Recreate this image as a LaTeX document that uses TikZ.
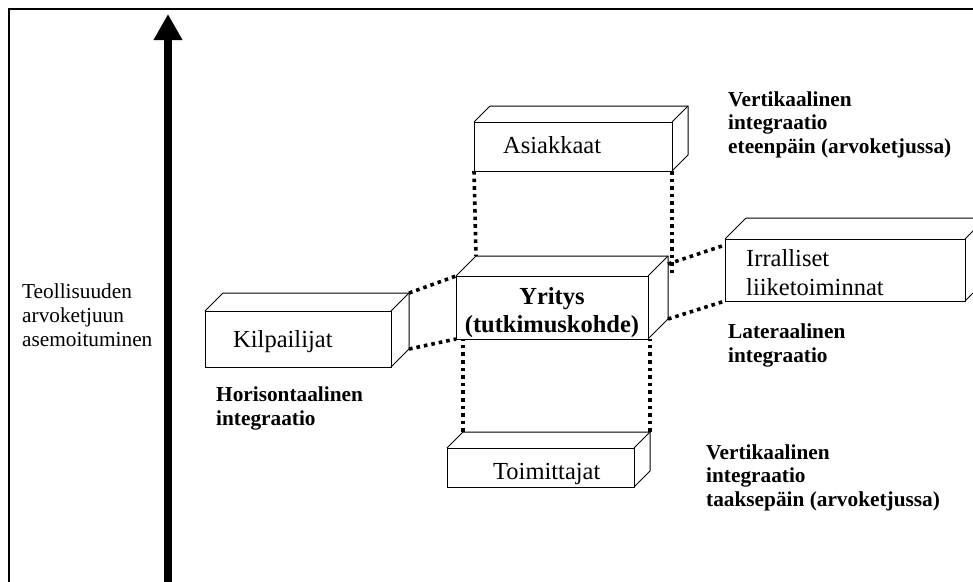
\documentclass[tikz,border=0pt]{standalone}
\usepackage{fontspec}
\setmainfont{Liberation Serif}
\usetikzlibrary{arrows.meta}
\tikzset{
  face/.style={draw, line width=1pt, fill=white, inner sep=0pt, outer sep=0pt},
  edge/.style={line width=1pt, line join=round},
  dots/.style={line width=3.6pt, dash pattern=on 3.6pt off 4pt},
  boxtext/.style={anchor=base west, inner sep=0pt, font=\fontsize{24.5}{28.5}\selectfont, align=left},
  tag/.style={anchor=base west, inner sep=0pt, font=\fontsize{21.3}{23.5}\selectfont\bfseries, align=left},
  axislabel/.style={anchor=base west, inner sep=0pt, font=\fontsize{21.3}{24}\selectfont, align=left},
}
% cuboid: name, left, top, right, bottom, depth (front face is the node)
\newcommand\cuboid[6]{%
  \node[face, minimum width={#4-#2}, minimum height={#5-#3}] (#1) at ({(#2+#4)/2},{(#3+#5)/2}) {};
  \coordinate (#1-tl) at ([shift={(#6,-#6)}]#1.north west);
  \coordinate (#1-tr) at ([shift={(#6,-#6)}]#1.north east);
  \coordinate (#1-br) at ([shift={(#6,-#6)}]#1.south east);
  \draw[edge] (#1.north west) -- (#1-tl) -- (#1-tr) -- (#1-br) -- (#1.south east);
  \draw[edge] (#1.north east) -- (#1-tr);
}
\begin{document}
\begin{tikzpicture}[x=1pt,y=-1pt]
\useasboundingbox (0,0) rectangle (973,581);
\clip (0,0) rectangle (973,581);

% outer frame (open to the right and bottom)
\draw[line width=2pt] (9,600) -- (9,9) -- (990,9);

% value-chain axis
\coordinate (axisfoot) at (168,600);
\coordinate (axistip) at (168,14);
\draw[line width=8pt, -{Triangle[width=27pt, length=26pt]}] (axisfoot) -- (axistip);
% multi-line texts are placed by the baseline of their last line
\node[axislabel] (axistxt) at (22,346) {Teollisuuden\\arvoketjuun\\asemoituminen};

% boxes
\cuboid{asi}{474}{122}{672}{171}{16}
\cuboid{yri}{456}{276}{648}{339}{20}
\cuboid{kil}{205}{311}{391}{367}{18}
\cuboid{irr}{725}{239}{965}{301}{21}
\cuboid{toi}{447}{448}{634}{487}{16}

% box texts
\node[boxtext] (asitxt) at (503,153) {Asiakkaat};
\node[boxtext] (kiltxt) at (233,347) {Kilpailijat};
\node[boxtext] (toitxt) at (493,479) {Toimittajat};
\node[boxtext] (irrtxt) at (746,295) {Irralliset\\liiketoiminnat};
\node[boxtext, anchor=base, align=center, font=\fontsize{24.5}{28}\selectfont\bfseries] (yritxt) at (552,332) {Yritys\\(tutkimuskohde)};

% dotted links
\draw[dots] (asi.south west) -- (yri-tl);
\draw[dots] (asi.south east) -- (asi.south east |- yri.north east);
\draw[dots] (toi-tl) -- (toi-tl |- yri.south);
\draw[dots] (toi-tr) -- (toi-tr |- yri.south);
\draw[dots] (kil-tr) -- (yri.north west);
\draw[dots] (kil-br) -- (yri.south west);
\draw[dots] ([shift={(0,8)}]yri-tr) -- ([shift={(0,6)}]irr.north west);
\draw[dots] (yri-br) -- (irr.south west);

% integration labels
\node[tag] (fwd) at (728,153) {Vertikaalinen\\integraatio\\eteenpäin (arvoketjussa)};
\node[tag] (lat) at (728,362) {Lateraalinen\\integraatio};
\node[tag] (hor) at (216,425) {Horisontaalinen\\integraatio};
\node[tag] (bwd) at (706,506) {Vertikaalinen\\integraatio\\taaksepäin (arvoketjussa)};
\end{tikzpicture}
\end{document}
